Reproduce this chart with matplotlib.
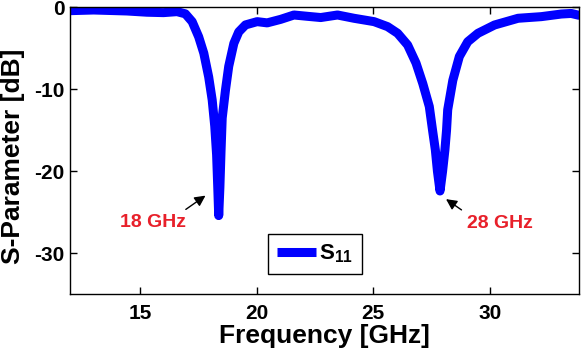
import numpy as np
import matplotlib
matplotlib.use("Agg")
import matplotlib.pyplot as plt

# reflection coefficient
freq_ghz = [12.0, 13.0, 14.43, 15.29, 16.0, 16.58, 16.94, 17.23, 17.51, 17.73,
            17.94, 18.09, 18.2, 18.28, 18.33, 18.37, 18.42, 18.47, 18.52, 18.66,
            18.8, 19.02, 19.23, 19.52, 20.02, 20.45, 21.03, 21.6, 22.18, 22.75,
            23.47, 24.18, 25.04, 25.62, 26.05, 26.48, 26.84, 27.13, 27.41, 27.55,
            27.67, 27.76, 27.87, 27.98, 28.08, 28.15, 28.2, 28.42, 28.7, 29.06,
            29.5, 30.21, 31.22, 32.22, 33.08, 33.5, 33.87]
s11_db = [-0.41, -0.33, -0.45, -0.6, -0.65, -0.53, -0.8, -1.75, -3.6, -5.6,
          -8.5, -11.3, -14.5, -18.0, -22.0, -25.4, -22.0, -17.5, -13.5, -10.1,
          -7.2, -4.4, -3.0, -2.15, -1.75, -1.9, -1.47, -0.94, -1.1, -1.25,
          -0.94, -1.34, -1.75, -2.36, -3.17, -4.6, -6.8, -9.3, -12.1, -15.0,
          -17.4, -20.0, -22.4, -20.0, -17.4, -15.0, -12.5, -8.9, -6.0, -4.2,
          -3.17, -2.16, -1.34, -1.14, -0.82, -0.75, -1.0]

x_ticks = [15, 20, 25, 30]
y_ticks = [0, -10, -20, -30]

plt.rcParams["font.family"] = ["Liberation Sans", "DejaVu Sans"]
plt.rcParams["font.weight"] = "bold"
plt.rcParams["axes.unicode_minus"] = False
plt.rcParams["mathtext.fontset"] = "custom"
plt.rcParams["mathtext.rm"] = "Liberation Sans:bold"
plt.rcParams["mathtext.bf"] = "Liberation Sans:bold"

fig = plt.figure(figsize=(5.86, 3.54), dpi=100)
ax = fig.add_axes([0.12, 0.1686, 0.8686, 0.8108])

ax.plot(freq_ghz, s11_db, color=(0, 0, 1), lw=6.5, label=r"$\mathbf{S_{11}}$",
        solid_joinstyle="round", solid_capstyle="butt")

ax.set_xlim(12, 33.85)
ax.set_ylim(-35, 0)
ax.set_xticks(x_ticks)
ax.set_yticks(y_ticks)
ax.tick_params(direction="in", length=5, width=1, top=True, right=True,
               labelsize=15, colors="k")
ax.tick_params(axis="x", pad=7)
ax.tick_params(axis="y", pad=4)
for s in ax.spines.values():
    s.set_linewidth(1)

ax.set_xlabel("Frequency [GHz]", fontsize=19, fontweight="bold", labelpad=1)
ax.set_ylabel("S-Parameter [dB]", fontsize=19, fontweight="bold")
ax.yaxis.set_label_coords(-0.09, 0.482)

red = "#e8202a"
ax.annotate("", xy=(17.9, -22.77), xytext=(16.86, -24.84),
            arrowprops=dict(arrowstyle="-|>", color="k", lw=1, mutation_scale=16))
ax.text(15.57, -26.2, "18 GHz", color=red, fontsize=14, fontweight="bold",
        ha="center", va="center")
ax.annotate("", xy=(28.03, -23.2), xytext=(28.89, -24.9),
            arrowprops=dict(arrowstyle="-|>", color="k", lw=1, mutation_scale=16))
ax.text(30.45, -26.4, "28 GHz", color=red, fontsize=14, fontweight="bold",
        ha="center", va="center")

leg = ax.legend(loc="lower left", bbox_to_anchor=(0.388, 0.0707), fontsize=16,
                handlelength=1.75, handletextpad=0.15, borderpad=0.4,
                borderaxespad=0, fancybox=False, framealpha=1, edgecolor="k")
leg.get_frame().set_linewidth(1)

fig.savefig("out.png", dpi=100)
